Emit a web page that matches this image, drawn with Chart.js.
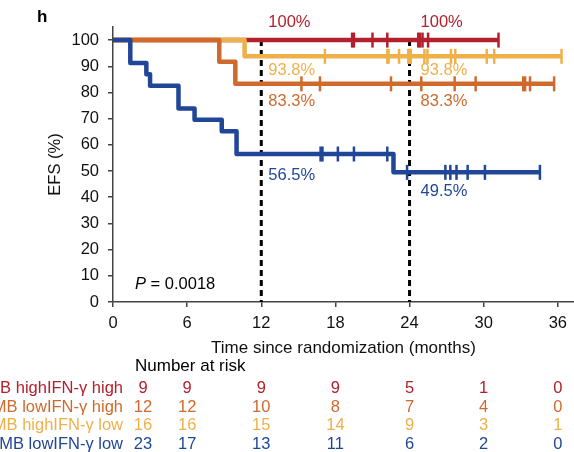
<!DOCTYPE html>
<html>
<head>
<meta charset="utf-8">
<script src="https://cdn.jsdelivr.net/npm/chart.js@4.4.1/dist/chart.umd.min.js"></script>
<style>
  body { margin: 0; background: #fff; }
  #wrap { width: 574px; height: 452px; position: relative; }
</style>
</head>
<body>
<div id="wrap"><canvas id="km"></canvas></div>
<script>
// Axis ticks
const xTicks = [0, 6, 12, 18, 24, 30, 36];
const yTicks = [0, 10, 20, 30, 40, 50, 60, 70, 80, 90, 100];

// KM curves: step times (months) and survival after each step (%)
const redTimes = [0, 31.2];
const redSurv = [100, 100];
const redCensor = [19.35, 19.5, 21.0, 22.2, 24.7, 24.85, 25.05, 25.5, 31.2];

const orangeTimes = [0, 8.6, 9.9, 35.7];
const orangeSurv = [100, 91.7, 83.3, 83.3];
const orangeCensor = [15.25, 16.75, 22.5, 24.95, 27.65, 29.35, 33.2, 33.35, 33.75, 35.7];

const yellowTimes = [0, 10.65, 36.3];
const yellowSurv = [100, 93.8, 93.8];
const yellowCensor = [17.15, 22.2, 22.3, 23.15, 23.9, 23.95, 24.05, 24.1, 25.2, 25.45, 27.35, 27.7, 30.25, 30.85, 36.3];

const blueTimes = [0, 1.4, 2.7, 3.0, 5.3, 6.6, 8.8, 10.0, 22.7, 34.55];
const blueSurv = [100, 91.3, 87.0, 82.6, 73.9, 69.6, 65.2, 56.5, 49.5, 49.5];
const blueCensor = [16.8, 16.95, 18.2, 19.5, 22.2, 23.8, 26.9, 27.3, 27.8, 28.7, 30.1, 34.55];

// Landmark lines and the survival labels next to them
const landmarks = [12, 24];
const pctText = ['100%', '100%', '93.8%', '93.8%', '83.3%', '83.3%', '56.5%', '49.5%'];
const pctTime = [12, 24, 12, 24, 12, 24, 12, 24];
const pctValue = [100, 100, 93.8, 93.8, 83.3, 83.3, 56.5, 49.5];
const pctSeries = ['red', 'red', 'yellow', 'yellow', 'orange', 'orange', 'blue', 'blue'];

// Number at risk table
const riskTimes = [0, 6, 12, 18, 24, 30, 36];
const groupNames = ['TMB highIFN-\u03b3 high', 'TMB lowIFN-\u03b3 high', 'TMB highIFN-\u03b3 low', 'TMB lowIFN-\u03b3 low'];
const riskRed = [9, 9, 9, 9, 5, 1, 0];
const riskOrange = [12, 12, 10, 8, 7, 4, 0];
const riskYellow = [16, 16, 15, 14, 9, 3, 1];
const riskBlue = [23, 17, 13, 11, 6, 2, 0];

const colors = { red: '#b3202e', orange: '#cf6a2c', yellow: '#efb04a', blue: '#1f4697' };
const FONT = '"Liberation Sans", Arial, sans-serif';

function stepPoints(times, surv) {
    return times.map((t, i) => ({ x: t, y: surv[i] }));
}

function survAt(times, surv, t) {
    let v = surv[0];
    for (let i = 0; i < times.length; i++) if (times[i] <= t) v = surv[i];
    return v;
}

function censorPoints(censor, times, surv) {
    return censor.map(t => ({ x: t, y: survAt(times, surv, t) }));
}

function curve(times, surv, color, order) {
    return {
        data: stepPoints(times, surv), stepped: true, borderColor: color, borderWidth: 4.5,
        borderJoinStyle: 'round', pointRadius: 0, fill: false, order: order
    };
}

function ticks(censor, times, surv, color, order) {
    return {
        data: censorPoints(censor, times, surv), showLine: false, pointStyle: 'line',
        rotation: 90, pointRadius: 7.5, pointBorderWidth: 2.5, pointBorderColor: color,
        borderColor: color, order: order
    };
}

function landmark(t) {
    return {
        data: [{ x: t, y: 100 }, { x: t, y: 0 }], borderColor: '#000', borderWidth: 3,
        borderDash: [6, 4], pointRadius: 0, order: 20
    };
}

const overlay = {
    id: 'overlay',
    afterDraw(chart) {
        const ctx = chart.ctx, xs = chart.scales.x, ys = chart.scales.y;
        ctx.save();

        // panel letter
        ctx.fillStyle = '#000';
        ctx.font = 'bold 17px ' + FONT;
        ctx.textAlign = 'left';
        ctx.textBaseline = 'alphabetic';
        ctx.fillText('h', 37, 22);

        // survival percentages at 12 and 24 months
        const dy = { '100%': -18, '93.8%': 14, '83.3%': 18, '56.5%': 21, '49.5%': 19 };
        ctx.font = '16.5px ' + FONT;
        ctx.textBaseline = 'middle';
        pctText.forEach((txt, i) => {
            const x = xs.getPixelForValue(pctTime[i]) + (pctTime[i] === 12 ? 7 : 11);
            const y = ys.getPixelForValue(pctValue[i]) + dy[txt];
            ctx.fillStyle = colors[pctSeries[i]];
            ctx.fillText(txt, x, y);
        });

        // P value
        ctx.fillStyle = '#000';
        ctx.font = 'italic 16.5px ' + FONT;
        ctx.fillText('P', 135, 284);
        const pw = ctx.measureText('P').width;
        ctx.font = '16.5px ' + FONT;
        ctx.fillText(' = 0.0018', 135 + pw, 284);

        // number at risk
        ctx.font = '17px ' + FONT;
        ctx.fillText('Number at risk', 135, 366);
        const rows = [riskRed, riskOrange, riskYellow, riskBlue];
        const rowColors = [colors.red, colors.orange, colors.yellow, colors.blue];
        const rowY = [388, 407, 425.5, 444];
        ctx.font = '16.5px ' + FONT;
        rows.forEach((row, r) => {
            ctx.fillStyle = rowColors[r];
            ctx.textAlign = 'right';
            ctx.fillText(groupNames[r], 123, rowY[r]);
            ctx.textAlign = 'center';
            row.forEach((n, c) => {
                const x = xs.getPixelForValue(riskTimes[c]) + (c === 0 ? 30 : 0);
                ctx.fillText(String(n), x, rowY[r]);
            });
        });
        ctx.restore();
    }
};

new Chart(document.getElementById('km'), {
    type: 'line',
    data: {
        datasets: [
            ticks(blueCensor, blueTimes, blueSurv, colors.blue, 0),
            curve(blueTimes, blueSurv, colors.blue, 1),
            ticks(orangeCensor, orangeTimes, orangeSurv, colors.orange, 2),
            curve(orangeTimes, orangeSurv, colors.orange, 3),
            ticks(yellowCensor, yellowTimes, yellowSurv, colors.yellow, 4),
            curve(yellowTimes, yellowSurv, colors.yellow, 5),
            ticks(redCensor, redTimes, redSurv, colors.red, 6),
            curve(redTimes, redSurv, colors.red, 7),
            ...landmarks.map(landmark)
        ]
    },
    options: {
        responsive: true,
        maintainAspectRatio: false,
        animation: false,
        layout: { autoPadding: false, padding: { top: 27, left: 0, right: 0, bottom: 90 } },
        plugins: { legend: { display: false }, tooltip: { enabled: false } },
        scales: {
            x: {
                type: 'linear', min: 0, max: 37.3,
                afterBuildTicks: axis => { axis.ticks = xTicks.map(v => ({ value: v })); },
                afterFit: axis => { axis.height = 60; },
                grid: { drawOnChartArea: false, tickLength: 5, color: '#444', lineWidth: 1.5 },
                border: { color: '#444', width: 1.5 },
                ticks: { color: '#111', padding: 7, font: { family: FONT, size: 16.5 }, maxRotation: 0 },
                title: { display: true, text: 'Time since randomization (months)', color: '#111',
                         font: { family: FONT, size: 17 }, padding: { top: 0, bottom: 3 } }
            },
            y: {
                type: 'linear', min: 0, max: 105,
                afterBuildTicks: axis => { axis.ticks = yTicks.map(v => ({ value: v })); },
                afterFit: axis => { axis.width = 113; },
                grid: { drawOnChartArea: false, tickLength: 5, color: '#444', lineWidth: 1.5 },
                border: { color: '#444', width: 1.5 },
                ticks: { color: '#111', padding: 9, font: { family: FONT, size: 16.5 } },
                title: { display: true, text: 'EFS (%)', color: '#111',
                         font: { family: FONT, size: 16.5 }, padding: { top: 46, bottom: 0 } }
            }
        }
    },
    plugins: [overlay]
});
</script>
</body>
</html>
